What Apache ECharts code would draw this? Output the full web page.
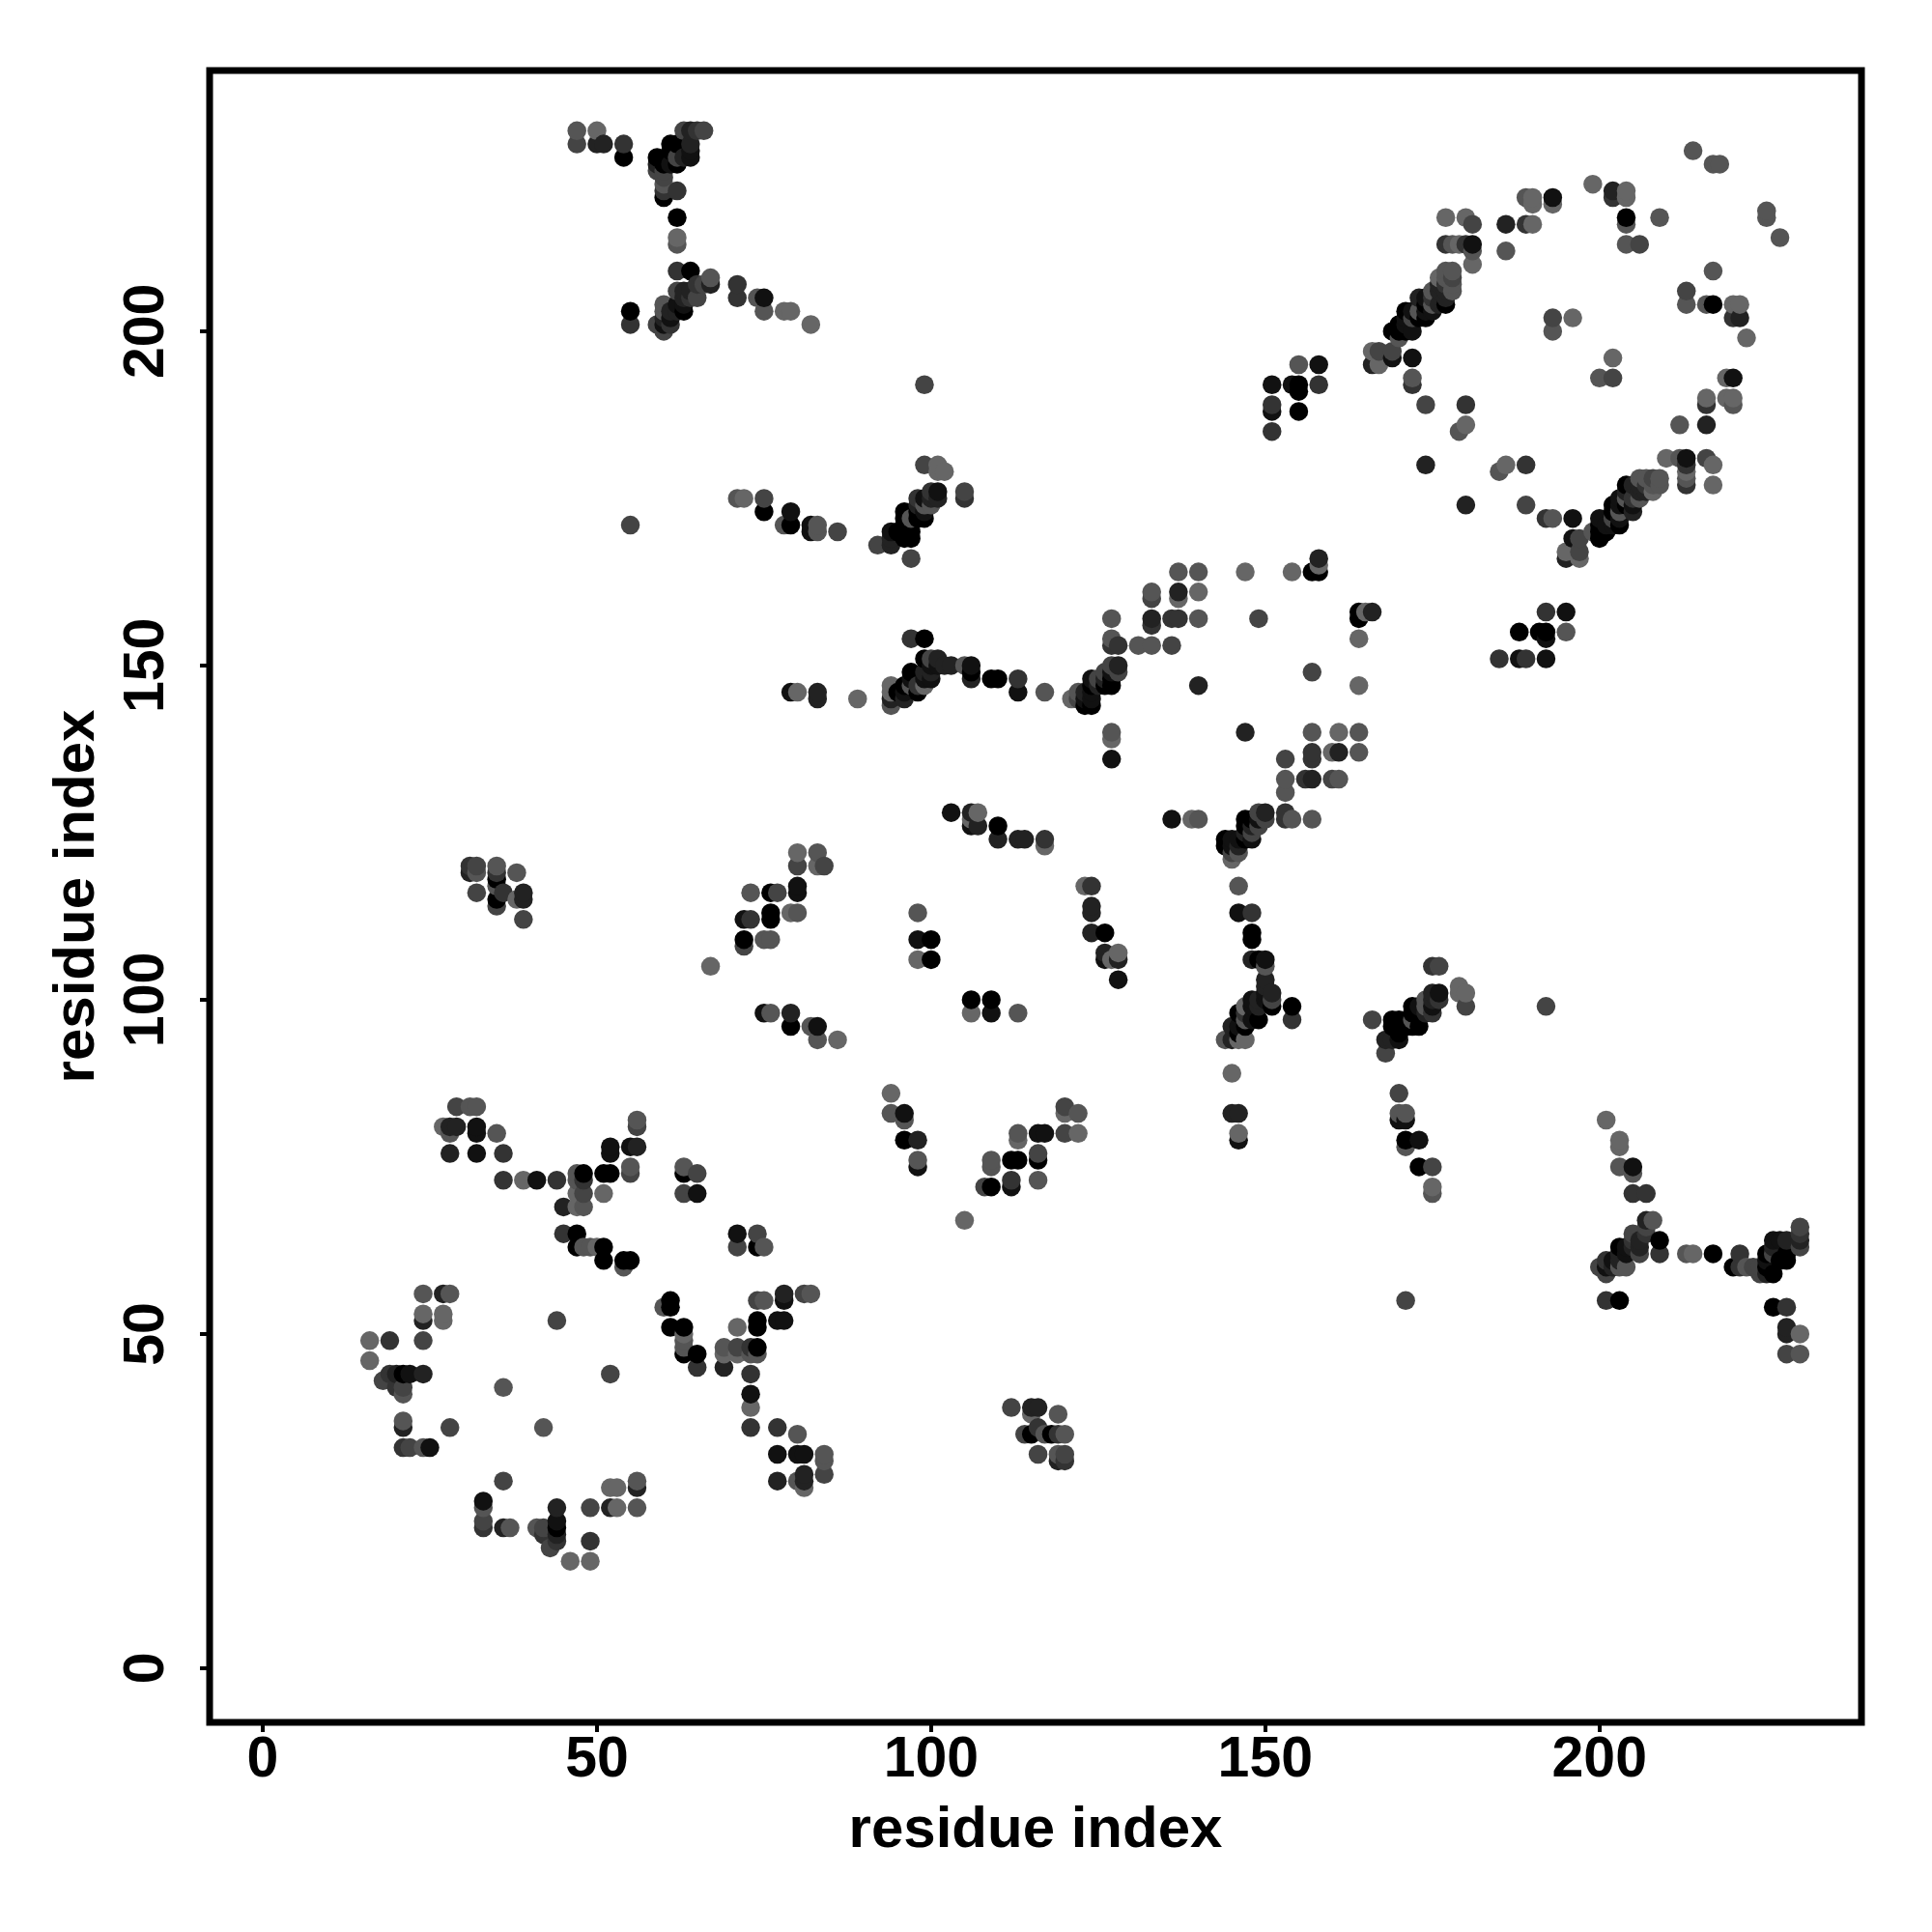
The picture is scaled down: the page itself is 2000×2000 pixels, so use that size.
<!DOCTYPE html>
<html><head><meta charset="utf-8">
<script src="https://cdn.jsdelivr.net/npm/echarts@6/dist/echarts.min.js"></script>
<style>html,body{margin:0;padding:0;background:#fff}#c{width:2000px;height:2000px}</style>
</head><body><div id="c"></div>
<script>
// Contacts as [residue i, residue j, distance bin 0 (closest, darkest) .. 6]; only i<j, the map is symmetric.
const ringLowerLeft = [[24,56,5],[27,56,2],[28,56,5],[24,53,6],[27,53,6],[24,52,2],[27,52,6],[16,49,6],[19,49,3],[24,49,4],[16,46,6],[19,44,3],[20,44,2],[21,44,0],[22,44,1],[24,44,2],[18,43,4],[20,42,3],[21,42,4],[21,41,5],[36,42,5],[44,52,4],[21,37,5],[21,36,2],[28,36,4],[21,33,3],[22,33,4],[24,33,5],[25,33,1]];
const sheetLow = [[29,84,4],[31,84,5],[32,84,5],[27,81,6],[28,81,2],[29,81,2],[32,81,1],[28,80,5],[32,80,1],[35,80,5],[28,77,2],[32,77,1],[36,77,3],[36,73,3],[39,73,6],[41,73,1],[44,73,3],[47,73,5],[48,73,3],[47,74,5],[48,74,0],[51,74,0],[52,74,0],[55,74,4],[55,75,5],[47,71,6],[48,71,4],[51,71,6],[45,69,2],[47,69,6],[48,69,5],[52,78,1],[52,77,1],[55,78,1],[56,78,2],[56,82,5],[56,81,4],[45,65,3],[47,65,0],[47,63,0],[48,63,5],[49,63,5],[50,63,6],[51,63,0],[51,61,0],[54,61,0],[55,61,0],[54,60,5],[63,75,5],[63,74,0],[65,74,4],[63,71,4],[65,71,1]];
const sheetMid = [[127,136,1],[103,128,1],[106,128,2],[107,128,6],[106,127,6],[106,126,1],[107,126,2],[110,126,0],[110,124,2],[113,124,2],[114,124,2],[117,124,3],[117,123,6],[80,122,6],[83,122,5],[80,120,4],[83,120,6],[84,120,4],[80,117,1],[73,116,5],[76,116,0],[77,116,4],[80,116,1],[79,113,6],[80,113,5],[76,113,0],[72,112,1],[73,112,3],[76,112,0],[72,109,0],[75,109,5],[76,109,5],[72,108,4],[67,105,6],[75,98,1],[76,98,5],[79,98,2],[79,96,0],[82,96,5],[83,96,1],[83,94,5],[86,94,6],[98,113,5],[98,109,1],[100,109,0],[98,106,6],[100,106,0]];
const ringMiddle = [[137,164,5],[140,164,5],[147,164,6],[154,164,6],[157,164,0],[158,164,0],[158,165,6],[158,166,2],[133,161,5],[137,161,2],[140,161,6],[133,160,4],[137,160,6],[127,157,5],[133,157,2],[136,157,3],[137,157,3],[140,157,5],[149,157,4],[133,156,3],[127,154,5],[127,153,3],[128,153,3],[131,153,5],[133,153,5],[136,153,4],[140,147,2],[127,140,5],[127,139,6]];
const bandMiddle = [[121,145,6],[122,145,4],[122,146,5],[123,146,2],[123,145,1],[123,144,0],[124,144,0],[124,145,1],[124,146,1],[124,147,0],[124,148,1],[125,147,2],[125,148,4],[126,147,0],[126,148,2],[127,147,0],[127,148,0],[127,149,1],[127,150,4],[128,149,4],[128,150,2],[126,149,4]];
const bandUpper = [[97,154,3],[99,154,0],[99,151,0],[100,151,4],[101,151,2],[102,150,2],[103,150,2],[105,150,5],[106,150,1],[97,149,0],[99,149,2],[100,149,2],[99,148,1],[100,148,1],[106,149,0],[106,148,2],[109,148,0],[110,148,0],[113,148,3],[113,146,1],[117,146,5],[79,146,1],[80,146,6],[83,146,2],[83,145,2],[89,145,6],[94,147,6],[94,146,6],[94,145,2],[94,144,5],[96,147,0],[96,146,1],[96,145,2],[97,148,1],[97,147,5],[98,147,3],[98,146,0],[99,147,6],[101,150,1],[100,150,1],[95,146,0]];
const patchFar = [[31,120,3],[32,120,4],[35,120,5],[31,119,2],[32,119,5],[35,119,3],[38,119,5],[35,118,0],[35,117,5],[32,116,4],[36,116,3],[39,116,2],[35,115,0],[38,115,6],[39,115,2],[35,114,4],[39,112,4]];
const armTop = [[47,230,5],[50,230,6],[63,230,4],[64,230,2],[65,230,3],[66,230,4],[47,228,4],[50,228,2],[51,228,2],[54,228,3],[61,228,0],[62,228,0],[64,228,2],[54,226,0],[59,226,0],[61,227,0],[64,227,1],[64,226,1],[62,226,4],[63,226,2],[59,225,2],[60,225,0],[61,225,1],[62,225,0],[59,224,4],[60,224,4],[60,223,4],[60,222,5],[60,221,3],[60,220,0],[62,221,3],[62,217,0],[62,214,6],[62,213,5]];
const armBottom = [[62,209,3],[64,209,0],[67,208,5],[65,207,3],[66,207,4],[67,207,2],[71,207,3],[71,205,3],[74,205,5],[75,205,1],[55,203,0],[75,203,5],[78,203,6],[79,203,6],[55,201,3],[82,201,6],[59,201,4],[60,200,4],[60,201,1],[60,202,2],[60,203,5],[61,201,3],[61,202,1],[61,203,2],[60,204,5],[62,203,2],[62,204,1],[63,203,0],[63,204,1],[62,206,4],[63,206,2],[64,206,2],[64,205,3],[65,205,4],[63,205,2]];
const armRight = [[99,192,4],[99,180,4],[101,180,6],[101,179,6],[102,179,6],[55,171,4],[71,175,5],[72,175,6],[75,175,4],[75,173,0],[79,173,1],[78,171,5],[79,171,0],[82,171,1],[83,171,5],[82,170,1],[83,170,5],[86,170,4],[92,168,4],[94,168,2],[94,169,2],[94,170,1],[95,170,0],[96,170,0],[97,170,0],[96,169,0],[97,169,0],[97,166,4],[96,171,0],[96,172,0],[96,173,0],[97,172,5],[98,172,0],[98,173,0],[99,172,0],[99,173,1],[98,174,2],[99,174,5],[98,175,3],[99,175,1],[100,174,5],[100,175,2],[101,175,2],[101,176,1],[100,176,3],[105,176,4],[105,175,3]];
const patchUpper = [[155,195,5],[158,195,1],[151,192,1],[154,192,1],[155,192,0],[158,192,3],[155,191,0],[151,189,3],[151,188,1],[155,188,0],[151,185,3]];
const ringUpper = [[214,227,5],[217,225,5],[218,225,5],[199,222,6],[202,221,2],[204,221,6],[189,220,5],[190,220,6],[193,220,1],[202,220,3],[204,220,6],[190,219,6],[193,219,6],[177,217,6],[180,217,6],[204,217,0],[209,217,5],[181,216,4],[186,216,2],[189,216,3],[190,216,6],[204,216,5],[177,213,3],[178,213,5],[179,213,6],[180,213,3],[181,213,1],[204,213,5],[206,213,4],[181,212,5],[186,212,5],[181,210,6],[193,202,4],[196,202,6],[193,200,5],[174,189,4],[180,189,3],[180,186,6],[179,185,5],[174,180,2]];
const bandRing = [[166,197,6],[167,197,4],[169,197,4],[172,196,1],[169,196,1],[166,195,2],[167,195,6],[172,193,5],[172,192,3],[170,199,5],[169,200,0],[170,200,0],[171,200,0],[172,200,1],[170,201,0],[171,201,1],[171,202,1],[171,203,0],[172,203,1],[173,202,0],[174,202,0],[172,202,4],[173,203,5],[173,205,2],[174,204,0],[175,204,5],[174,205,1],[174,203,1],[175,203,1],[176,204,2],[177,204,0],[175,205,3],[175,206,5],[176,206,2],[176,207,2],[176,208,6],[177,205,2],[177,206,2],[177,207,3],[178,206,5],[178,207,5],[177,208,5],[178,208,4],[177,209,5],[178,209,5]];
const tickValues = [0,50,100,150,200];
const axisTitle = 'residue index';

const upper = [].concat(ringLowerLeft,sheetLow,sheetMid,ringMiddle,bandMiddle,bandUpper,patchFar,armTop,armBottom,armRight,patchUpper,ringUpper,bandRing);
const all = upper.concat(upper.map(p=>[p[1],p[0],p[2]]));
all.sort((a,b)=>a[0]-b[0]||a[1]-b[1]);

const font = {fontFamily:'"Liberation Sans",Arial,sans-serif',fontWeight:'bold',color:'#000'};
function axis(extra){
  return Object.assign({
    type:'value',name:axisTitle,nameLocation:'middle',
    nameTextStyle:Object.assign({fontSize:60},font),
    splitLine:{show:false},axisLine:{show:false,onZero:false},
    axisTick:{show:true,length:10,lineStyle:{color:'#000',width:4},customValues:tickValues}
  },extra);
}
const chart = echarts.init(document.getElementById('c'),null,{renderer:'canvas'});
chart.setOption({
  animation:false,backgroundColor:'#fff',
  grid:{show:true,left:217,right:73,top:73,bottom:217,borderColor:'#000',borderWidth:7},
  xAxis:axis({min:-7.95,max:239.2,nameGap:82,axisLabel:Object.assign({show:true,fontSize:59,margin:10,customValues:tickValues},font)}),
  yAxis:axis({min:-8.1,max:239,nameGap:107,axisLabel:Object.assign({show:true,fontSize:59,margin:35,rotate:90,customValues:tickValues,align:'center',verticalAlign:'bottom'},font)}),
  series:[{type:'scatter',data:all,symbol:'circle',symbolSize:19.5,silent:true,z:5,
    itemStyle:{opacity:1,color:p=>{const g=p.value[2]*17;return `rgb(${g},${g},${g})`;}}}]
});
</script></body></html>
